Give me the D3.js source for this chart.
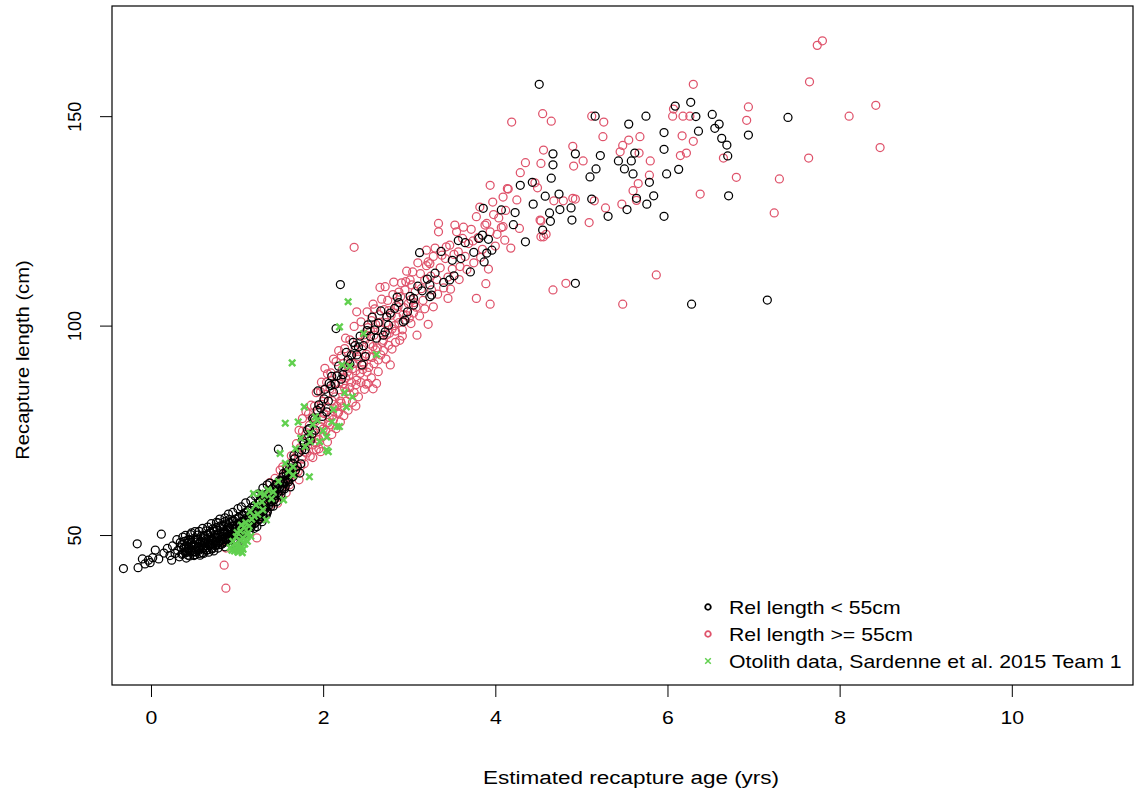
<!DOCTYPE html>
<html>
<head>
<meta charset="utf-8">
<script src="https://cdn.jsdelivr.net/npm/d3@7"></script>
<style>
  html, body { margin: 0; padding: 0; background: #fff; }
  svg { display: block; }
  text { font-family: "Liberation Sans", Arial, sans-serif; fill: #000; }
</style>
</head>
<body>
<svg id="chart" width="1134" height="796"></svg>
<script>
// Recaptured fish with release length < 55 cm: [estimated age (yrs), recapture length (cm)]
const smallRelease = [
  [-0.32,42.0],[-0.15,42.2],[-0.16,47.9],[-0.10,44.3],[-0.07,43.1],[-0.03,44.0],[-0.01,43.4],[0.02,44.6],
  [0.05,46.4],[0.09,44.3],[0.12,50.2],[0.15,45.7],[0.19,46.8],[0.22,45.1],[0.24,44.0],[0.25,47.4],
  [0.28,45.6],[0.31,46.3],[0.34,48.2],[0.36,45.4],[0.39,47.1],[0.41,46.1],[0.43,45.2],[0.45,48.8],
  [0.47,50.5],[0.48,45.9],[0.50,47.6],
  [0.52,46.0],[0.55,47.2],[0.57,45.2],[0.58,48.5],[0.60,46.8],[0.62,47.9],[0.63,49.3],[0.65,46.5],
  [0.66,48.1],[0.68,47.4],[0.70,49.0],[0.71,46.9],[0.72,48.6],[0.74,50.1],[0.75,47.7],[0.77,49.4],
  [0.78,52.9],[0.79,48.2],[0.80,50.5],[0.82,47.8],[0.83,49.6],[0.85,51.0],[0.86,53.2],[0.87,48.9],
  [0.88,50.3],[0.90,49.5],[0.91,51.6],[0.92,48.7],[0.94,50.8],[0.95,52.2],[0.97,49.9],[0.98,51.3],
  [1.00,50.6],[1.01,52.8],[1.03,51.5],[1.04,49.8],[1.06,53.0],[1.07,51.9],[1.09,52.6],[1.10,50.9],
  [1.12,53.7],[1.13,52.2],[1.15,54.2],[1.16,51.8],[1.18,53.4],[1.19,55.0],[1.21,52.9],[1.22,54.6],
  [1.24,56.0],[1.25,53.8],[1.27,55.3],[1.28,57.1],[1.30,54.9],
  [0.30,48.9],[0.33,44.8],[0.35,47.0],[0.37,49.5],[0.40,45.8],[0.42,48.0],[0.44,46.6],[0.46,47.9],
  [0.49,49.1],[0.51,45.3],[0.53,48.7],[0.54,50.0],[0.56,46.4],[0.59,47.5],[0.61,49.8],[0.61,45.6],
  [0.64,48.9],[0.64,51.0],[0.67,45.9],[0.69,50.4],[0.69,48.0],[0.72,51.5],[0.73,46.2],[0.76,48.6],
  [0.76,51.8],[0.78,46.9],[0.81,49.0],[0.81,52.2],[0.84,48.1],[0.84,50.2],[0.86,47.2],[0.89,51.9],
  [0.89,49.1],[0.91,53.7],[0.93,50.2],[0.93,47.9],[0.96,49.0],[0.96,53.4],[0.99,50.4],[0.99,48.3],
  [1.02,54.1],[1.02,50.1],[1.05,51.1],[1.05,48.8],[1.08,54.7],[1.08,50.3],[1.11,52.0],[1.11,55.4],
  [1.14,50.7],[1.14,53.0],[1.17,55.8],[1.17,52.4],[1.20,51.6],[1.20,57.0],[1.23,55.1],[1.23,52.0],
  [1.26,57.7],[1.26,54.4],[1.29,53.2],[1.29,59.0],[1.31,55.9],[1.33,58.2],[1.35,55.7],[1.37,59.9],
  [1.39,56.8],[1.41,61.0],[1.43,58.4],[1.45,61.9],[1.47,60.1],[1.50,62.8],[1.52,61.0],[1.54,64.7],
  [1.56,62.7],[1.58,66.1],[1.60,64.4],[1.62,61.5],[1.64,66.0],[1.66,69.0],[1.68,65.5],[1.72,69.7],
  [1.74,67.0],[1.76,72.7],[1.79,70.4],[1.82,75.1],[1.85,72.5],[1.88,77.8],[1.91,75.0],[1.95,81.1],
  [1.99,78.3],[2.02,84.8],[2.06,82.0],[2.10,87.9],[2.14,86.0],[2.18,90.3],[2.23,88.3],[2.27,93.6],
  [2.31,90.9],[2.35,96.0],[2.39,93.0],[2.43,97.5],[2.47,95.2],[2.51,98.8],[2.57,102.0],[2.62,97.0],
  [2.67,103.5],[2.76,100.1],[2.86,106.8],[2.98,103.3],[3.10,109.4],[3.15,108.3],[3.30,112.5],[3.40,110.3],
  [3.60,116.0],[3.65,119.8],[3.85,121.6],[3.90,117.3],
  [0.36,47.8],[0.37,45.6],[0.38,46.9],[0.39,48.5],[0.41,47.4],[0.42,45.9],[0.43,48.9],[0.44,47.0],
  [0.46,46.2],[0.47,48.3],[0.48,47.5],[0.50,46.0],[0.51,48.9],[0.52,47.3],[0.53,46.4],[0.55,49.0],
  [0.56,47.9],[0.57,46.7],[0.58,49.6],[0.60,48.2],[0.61,47.1],[0.62,49.9],[0.63,48.4],[0.64,46.9],
  [0.66,50.0],[0.67,48.8],[0.68,47.6],[0.69,50.6],[0.71,49.2],[0.72,47.9],[0.73,50.9],[0.74,49.5],
  [0.75,48.2],[0.77,51.2],[0.78,50.0],[0.79,48.6],[0.80,51.7],[0.82,50.3],[0.83,49.0],[0.84,52.1],
  [0.85,50.7],[0.86,49.4],[0.88,52.6],[0.89,51.1],[0.90,49.8],[0.91,52.9],[0.92,51.5],[0.94,50.2],
  [0.95,53.3],[0.96,52.0],[0.97,50.7],[0.98,53.8],[1.00,52.3],[1.01,51.0],[1.02,54.2],[1.03,52.9],
  [1.04,51.5],[1.06,54.7],[1.07,53.3],[1.08,52.0],[1.09,55.3],[1.10,53.9],[1.12,52.6],[1.13,55.8],
  [1.14,54.4],[1.15,53.1],[1.16,56.4],[1.18,55.0],[1.19,53.7],[1.20,56.9],[1.21,55.6],[1.22,54.4],
  [1.24,57.6],[1.25,56.2],[1.26,55.0],[1.27,58.3],[1.28,56.9],[1.30,55.7],[1.31,59.0],[1.32,57.6],
  [1.33,56.4],[1.34,59.7],[1.36,58.3],[1.37,57.2],[1.38,60.5],[1.39,59.1],[1.40,58.0],[1.42,61.3],
  [1.43,59.9],[1.44,58.8],[1.45,62.1],[1.46,60.8],[1.48,59.7],[1.49,63.0],[1.50,61.6],[1.52,60.6],
  [1.53,63.9],[1.54,62.5],[1.56,61.6],[1.57,64.9],[1.58,63.5],[1.60,62.7],[1.61,65.9],[1.62,64.6],
  [1.64,63.8],[1.65,67.0],
  [0.40,49.9],[0.46,50.1],[0.51,50.8],[0.56,50.9],[0.60,51.6],[0.66,51.9],[0.70,52.7],[0.76,53.0],
  [0.80,53.8],[0.86,54.1],[0.90,55.0],[0.95,55.4],[1.01,56.3],[1.05,56.7],[1.10,57.7],[1.16,58.2],
  [1.21,59.3],[1.25,59.8],[1.30,61.2],[1.35,62.0],
  [0.41,44.5],[0.45,45.0],[0.50,45.1],[0.56,45.6],[0.60,45.8],[0.65,46.4],[0.71,46.7],[0.75,47.4],
  [0.80,47.7],[0.86,48.4],[0.90,48.8],[0.95,49.6],[1.00,50.0],[1.06,50.8],[1.10,51.3],[1.15,52.2],
  [1.20,52.7],[1.26,53.7],[1.30,54.3],[1.35,55.4],
  [1.32,56.4],[1.34,54.8],[1.36,57.5],[1.38,62.4],[1.40,58.1],[1.42,56.9],[1.44,59.3],[1.46,58.0],
  [1.48,70.5],[1.49,61.2],[1.51,59.6],[1.53,62.5],[1.55,61.0],[1.57,64.2],[1.59,63.1],[1.61,65.6],
  [1.63,67.1],[1.65,64.0],[1.67,68.2],[1.70,66.4],[1.73,64.8],[1.75,70.3],[1.78,71.9],[1.81,73.0],
  [1.84,75.4],[1.87,74.1],[1.90,77.6],[1.93,79.8],[1.94,84.4],[1.97,80.3],[2.01,82.5],[2.04,79.4],
  [2.07,86.2],[2.09,85.7],[2.12,84.1],[2.15,99.3],[2.16,88.0],[2.20,109.8],[2.21,87.2],[2.25,90.1],
  [2.29,91.8],[2.33,93.0],[2.37,95.2],[2.41,94.9],[2.45,90.6],[2.49,92.6],[2.52,100.2],[2.55,97.4],
  [2.60,99.0],[2.64,100.6],[2.70,97.7],[2.72,98.5],[2.74,102.1],[2.78,103.0],[2.83,104.1],[2.88,105.5],
  [2.93,100.9],[2.95,101.3],[3.01,107.0],[3.05,104.9],[3.05,106.5],
  [3.12,117.4],[3.21,111.1],[3.24,109.7],[3.24,106.9],[3.26,107.3],[3.37,117.7],[3.47,110.9],[3.50,115.6],
  [3.52,111.9],[3.57,120.3],[3.71,112.8],[3.75,117.5],[3.81,120.8],[3.86,128.0],[3.87,115.2],[3.92,120.6],
  [3.96,118.0],[4.07,127.6],[4.21,124.1],[4.23,127.0],[4.29,133.5],[4.35,120.0],[4.43,134.2],[4.44,129.0],
  [4.51,157.6],[4.55,122.8],[4.58,130.9],[4.63,126.9],[4.64,124.9],[4.65,135.2],[4.67,141.0],[4.67,138.4],
  [4.74,131.4],[4.75,127.7],[4.88,128.1],[4.89,125.2],[4.93,141.0],[4.93,110.1],[5.10,135.5],[5.12,130.2],
  [5.16,150.0],[5.17,137.4],[5.22,140.6],[5.31,126.1],[5.43,139.3],[5.50,137.4],[5.53,127.7],[5.55,148.1],
  [5.58,139.3],[5.60,136.2],[5.62,141.2],[5.64,130.4],[5.75,150.0],[5.76,129.0],[5.79,134.2],[5.84,131.0],
  [5.96,146.1],[5.96,142.1],[5.96,126.1],[5.99,136.2],[6.09,152.4],[6.13,137.3],[6.27,153.3],[6.28,105.1],
  [6.33,149.9],[6.36,146.4],[6.52,150.4],[6.55,147.1],[6.60,148.1],[6.63,144.7],[6.69,143.1],[6.70,140.5],
  [6.71,131.0],[6.94,145.5],[7.16,106.1],[7.40,149.7]
];

// Recaptured fish with release length >= 55 cm
const largeRelease = [
  [0.87,37.3],[0.85,42.8],[0.87,46.9],[1.23,49.3],[1.23,53.6],[1.38,62.5],[1.50,65.5],
  [1.30,57.8],[1.33,55.0],[1.35,59.2],[1.38,57.1],[1.41,60.4],[1.43,58.3],[1.46,61.8],[1.48,59.0],
  [1.50,63.0],[1.52,60.7],[1.54,64.1],[1.56,62.2],[1.58,65.7],[1.60,63.0],[1.62,66.8],[1.64,64.5],
  [1.66,68.3],[1.68,66.0],[1.70,69.5],[1.71,65.2],[1.73,70.8],[1.75,68.1],[1.77,72.4],[1.79,69.8],
  [1.80,74.0],[1.82,71.3],[1.84,76.2],[1.86,72.7],[1.87,78.0],[1.89,74.4],[1.91,77.1],[1.92,72.0],
  [1.94,79.5],[1.96,76.0],[1.98,81.2],[1.99,77.5],[2.01,79.0],[2.02,89.8],[2.03,83.6],[2.05,80.4],
  [2.06,76.9],[2.08,84.9],[2.10,82.1],[2.11,78.6],[2.13,86.3],[2.14,83.0],[2.16,80.7],[2.17,88.0],
  [2.19,84.7],[2.20,82.0],[2.22,89.4],[2.23,86.1],[2.24,91.0],[2.26,87.5],[2.27,84.2],[2.29,90.3],
  [2.30,88.0],[2.32,92.7],[2.33,86.5],[2.35,90.9],[2.36,118.7],[2.37,94.1],[2.38,89.2],[2.39,103.3],
  [2.40,92.6],[2.42,96.0],[2.43,88.6],[2.45,94.3],[2.47,91.0],[2.48,97.8],[2.50,93.2],[2.52,86.2],
  [2.52,99.5],[2.54,95.6],[2.56,101.2],[2.57,92.4],[2.58,105.1],[2.59,97.7],[2.61,100.3],[2.62,86.2],
  [2.63,94.7],[2.65,102.6],[2.66,109.1],[2.67,99.0],[2.69,96.0],[2.71,103.8],[2.72,109.3],[2.73,100.7],
  [2.75,106.0],[2.77,98.2],[2.78,90.6],[2.79,102.5],[2.81,107.4],[2.83,100.0],[2.85,104.8],[2.87,104.5],
  [2.89,96.5],[2.90,106.9],[2.91,110.2],[2.93,102.6],[2.95,108.5],[2.97,113.0],[2.99,105.3],[3.01,110.9],
  [3.03,109.7],[3.05,103.0],[3.07,108.2],[3.09,97.7],[3.12,102.3],[3.13,112.4],[3.16,106.0],[3.18,110.9],
  [3.20,114.3],[3.22,115.2],[3.22,100.3],[3.24,114.8],[3.26,108.5],[3.28,104.5],[3.30,118.5],[3.32,111.0],
  [3.34,124.4],[3.34,122.4],[3.38,116.8],[3.40,109.0],[3.42,116.0],[3.45,111.6],[3.45,106.5],[3.47,119.2],
  [3.50,113.5],[3.53,124.0],[3.55,122.4],[3.57,117.6],[3.59,114.1],[3.62,120.8],[3.65,116.5],[3.69,119.6],
  [3.72,123.0],[3.75,115.0],[3.78,126.0],[3.78,106.5],[3.80,121.0],[3.82,128.3],[3.85,118.2],[3.88,124.0],
  [3.90,124.4],[3.92,113.5],[3.94,122.4],[3.94,133.5],[3.94,105.1],[3.97,129.5],[4.00,119.0],[4.04,125.7],
  [4.07,123.4],[4.09,130.7],[4.09,123.6],[4.11,120.4],[4.14,132.7],[4.15,132.6],[4.19,148.6],[4.28,123.2],
  [4.29,136.5],[4.35,138.9],[4.46,134.1],[4.49,132.9],[4.52,125.2],[4.53,138.7],[4.53,121.2],[4.53,125.0],
  [4.55,150.6],[4.56,141.9],[4.56,121.2],[4.59,121.8],[4.65,148.8],[4.67,108.5],[4.68,129.8],[4.79,129.8],
  [4.82,110.1],[4.90,130.4],[4.90,142.8],[4.91,138.1],[4.93,130.2],[5.02,139.3],[5.09,124.6],[5.12,150.0],
  [5.15,129.8],[5.25,145.1],[5.26,148.6],[5.28,128.1],[5.45,141.5],[5.47,129.0],[5.48,143.0],[5.48,105.1],
  [5.55,144.3],[5.60,132.2],[5.64,129.9],[5.66,133.9],[5.67,141.2],[5.68,145.1],[5.79,135.9],[5.80,139.3],
  [5.87,112.1],[6.06,150.0],[6.07,151.7],[6.15,140.6],[6.17,145.3],[6.18,150.0],[6.22,141.2],[6.26,150.0],
  [6.30,157.6],[6.30,144.0],[6.38,131.4],[6.65,140.0],[6.80,135.4],[6.92,149.0],[6.94,152.2],[7.24,126.9],
  [7.30,135.0],[7.64,140.0],[7.65,158.2],[7.74,166.9],[7.80,168.0],[8.11,150.0],[8.42,152.6],[8.47,142.5],
  [1.44,63.5],[1.47,57.6],[1.53,66.3],[1.57,60.1],[1.61,62.0],[1.63,68.9],[1.67,64.6],[1.69,71.8],
  [1.72,63.2],[1.74,66.5],[1.76,74.8],[1.78,67.0],[1.81,69.6],[1.83,78.9],[1.85,68.8],[1.88,71.5],
  [1.90,80.8],[1.93,73.6],[1.95,70.6],[1.97,84.2],[2.00,75.3],[2.00,81.9],[2.04,86.5],[2.07,78.1],
  [2.09,88.7],[2.12,80.2],[2.15,91.4],[2.18,79.3],[2.18,86.2],[2.21,92.8],[2.21,81.5],[2.25,85.0],
  [2.25,94.5],[2.28,88.9],[2.31,83.5],[2.31,96.6],[2.34,89.7],[2.36,99.8],[2.38,85.9],[2.41,92.0],
  [2.44,100.9],[2.46,89.5],[2.49,96.7],[2.51,103.3],[2.53,90.0],[2.55,98.7],[2.58,95.0],[2.60,104.0],
  [2.64,91.8],[2.66,100.8],[2.68,106.3],[2.70,94.0],[2.74,97.8],[2.76,103.6],[2.80,99.2],[2.82,110.4],
  [2.84,96.0],[2.86,102.0],[2.88,108.0],[2.92,99.0],[2.94,104.3],[2.96,110.5],[3.00,101.8],[3.02,106.2],
  [3.04,112.8],[3.08,104.4],[3.10,115.0],[3.14,108.8],[3.18,104.0],[3.20,118.0],[3.25,111.8],[3.28,116.5],
  [3.33,107.5],[3.36,113.8],[3.43,118.8],[3.48,108.7],[3.52,117.0],[3.58,111.0],[3.63,123.5],[3.67,113.4],
  [3.74,120.2],[3.83,116.3],[3.89,110.0],[3.98,126.5],[4.02,121.8],[4.12,127.5],[4.18,118.5],[4.25,130.0],
  [1.88,68.5],[1.92,70.4],[1.95,72.8],[1.97,69.9],[2.00,73.6],[2.03,75.0],[2.05,72.2],[2.08,76.3],
  [2.10,74.0],[2.12,77.6],[2.15,75.4],[2.17,79.0],[2.20,77.0],[2.22,80.6],[2.24,78.5],[2.27,82.0],
  [2.29,79.8],[2.31,85.2],[2.34,81.7],[2.36,84.0],[2.39,87.0],[2.41,83.0],[2.44,86.4],[2.46,90.5],
  [2.48,84.8],[2.51,88.9],[2.54,92.6],[2.56,87.5],[2.59,90.9],[2.61,94.2],[2.64,89.0],[2.67,93.0],
  [2.70,96.5],[2.73,92.0],[2.76,95.3],[2.80,94.4],[2.84,98.7],[2.88,100.7],[2.92,97.5],[2.97,102.4],
  [3.02,100.5],[3.06,105.5],[2.38,80.8],[2.50,86.0],[2.58,84.9],
  [1.72,75.0],[1.76,77.8],[1.80,79.5],[1.86,81.0],[1.92,84.0],[1.98,86.5],[2.05,88.5],[2.12,92.0],
  [2.18,94.0],[2.26,97.0]
];

// Otolith-based age/length pairs (Sardenne et al. 2015, Team 1)
const otolith = [
  [0.92,47.0],[0.95,48.5],[0.97,46.2],[0.99,49.6],[1.00,47.4],[1.02,46.0],[1.03,48.8],[1.04,50.9],
  [1.05,47.2],[1.06,45.8],[1.07,49.3],[1.08,51.8],[1.09,47.9],[1.10,53.0],[1.11,50.2],[1.12,48.5],
  [1.14,52.2],[1.15,55.6],[1.17,53.8],[1.19,59.9],[1.20,54.5],[1.22,57.2],[1.24,55.0],[1.27,60.0],
  [1.29,57.9],[1.30,56.0],[1.32,59.6],[1.34,53.6],[1.36,60.8],[1.40,58.7],[1.42,60.3],[1.48,62.8],
  [1.50,69.5],[1.54,58.4],[1.56,67.1],[1.56,76.7],[1.60,65.2],[1.64,91.1],[1.65,64.3],[1.65,66.3],
  [1.68,70.6],[1.71,77.0],[1.74,73.1],[1.78,80.6],[1.79,71.1],[1.84,63.9],[1.85,74.3],[1.85,72.3],
  [1.88,76.4],[1.91,78.2],[1.93,77.4],[1.96,72.3],[2.00,74.9],[2.04,73.4],[2.04,70.3],[2.06,69.9],
  [2.10,77.0],[2.12,80.0],[2.16,75.9],[2.19,75.9],[2.19,99.7],[2.22,90.6],[2.25,84.0],[2.27,80.6],
  [2.29,105.7],[2.31,90.3],[2.34,83.0],[2.47,98.1],[2.62,93.1],
  [0.94,46.4],[0.98,47.8],[1.01,45.9],[1.04,47.0],[1.07,46.6],[1.10,48.9],[1.13,50.6],[1.16,49.7],
  [1.00,50.6],[1.05,52.4]
];

const xTicks = [0, 2, 4, 6, 8, 10];
const yTicks = [50, 100, 150];
const legendLabels = ["Rel length < 55cm", "Rel length >= 55cm", "Otolith data, Sardenne et al. 2015 Team 1"];

const colBlack = "#000000", colRed = "#DF536B", colGreen = "#61D04F";
const fontSize = 18;
const stretch = 1.18;   // horizontal widening of glyphs

const svg = d3.select("#chart");

// Plot region limits (data units) mapped onto the framed panel
const x = d3.scaleLinear().domain([-0.453, 11.408]).range([112, 1133]);
const y = d3.scaleLinear().domain([14.2, 176.3]).range([685, 6]);

const [px0, px1] = x.range();
const [py0, py1] = y.range();

// Axes
const xAxis = d3.axisBottom(x).tickValues(xTicks).tickSize(12).tickPadding(14).tickFormat(d3.format("d"));
const gx = svg.append("g").attr("transform", `translate(0,${py0})`).call(xAxis);
gx.select(".domain").remove();
gx.selectAll(".tick line").attr("stroke", "#000").attr("stroke-width", 1);
gx.selectAll(".tick text")
  .attr("font-size", fontSize).attr("font-family", "Liberation Sans, Arial, sans-serif").attr("fill", "#000")
  .attr("transform", `scale(${stretch},1)`);

const yAxis = d3.axisLeft(y).tickValues(yTicks).tickSize(12).tickFormat(d3.format("d"));
const gy = svg.append("g").attr("transform", `translate(${px0},0)`).call(yAxis);
gy.select(".domain").remove();
gy.selectAll(".tick line").attr("stroke", "#000").attr("stroke-width", 1);
gy.selectAll(".tick text")
  .attr("font-size", fontSize).attr("font-family", "Liberation Sans, Arial, sans-serif").attr("fill", "#000")
  .attr("x", null).attr("dy", null)
  .attr("text-anchor", "middle")
  .attr("transform", "translate(-31,0) rotate(-90)");

// Axis titles
svg.append("text")
  .attr("transform", `translate(631,784) scale(1.25,1)`)
  .attr("text-anchor", "middle").attr("font-size", fontSize)
  .text("Estimated recapture age (yrs)");

svg.append("text")
  .attr("transform", `translate(29,360) rotate(-90) scale(1.12,1)`)
  .attr("text-anchor", "middle").attr("font-size", fontSize)
  .text("Recapture length (cm)");

// Points
const pts = svg.append("g");
pts.selectAll("circle.large").data(largeRelease).join("circle")
  .attr("class", "large")
  .attr("cx", d => x(d[0])).attr("cy", d => y(d[1])).attr("r", 4)
  .attr("fill", "none").attr("stroke", colRed).attr("stroke-width", 1.25);

pts.selectAll("circle.small").data(smallRelease).join("circle")
  .attr("class", "small")
  .attr("cx", d => x(d[0])).attr("cy", d => y(d[1])).attr("r", 4)
  .attr("fill", "none").attr("stroke", colBlack).attr("stroke-width", 1.25);

const crossPath = s => `M${-s},${-s}L${s},${s}M${-s},${s}L${s},${-s}`;
pts.selectAll("path.oto").data(otolith).join("path")
  .attr("class", "oto")
  .attr("transform", d => `translate(${x(d[0])},${y(d[1])})`)
  .attr("d", crossPath(3.2))
  .attr("stroke", colGreen).attr("stroke-width", 2.4).attr("fill", "none");

// Frame
svg.append("rect")
  .attr("x", px0).attr("y", py1).attr("width", px1 - px0).attr("height", py0 - py1)
  .attr("fill", "none").attr("stroke", "#000").attr("stroke-width", 1.2);

// Legend
const legend = svg.append("g").attr("transform", "translate(708,607)");
const rowH = 27;
legendLabels.forEach((lab, i) => {
  const g = legend.append("g").attr("transform", `translate(0,${i * rowH})`);
  if (i < 2) {
    g.append("circle").attr("r", 2.8).attr("fill", "none")
      .attr("stroke", i === 0 ? colBlack : colRed).attr("stroke-width", 1.8);
  } else {
    g.append("path").attr("d", crossPath(2.8)).attr("stroke", colGreen).attr("stroke-width", 1.5);
  }
  g.append("text").attr("transform", `translate(21,6.5) scale(${stretch},1)`)
    .attr("font-size", fontSize).text(lab);
});
</script>
</body>
</html>
